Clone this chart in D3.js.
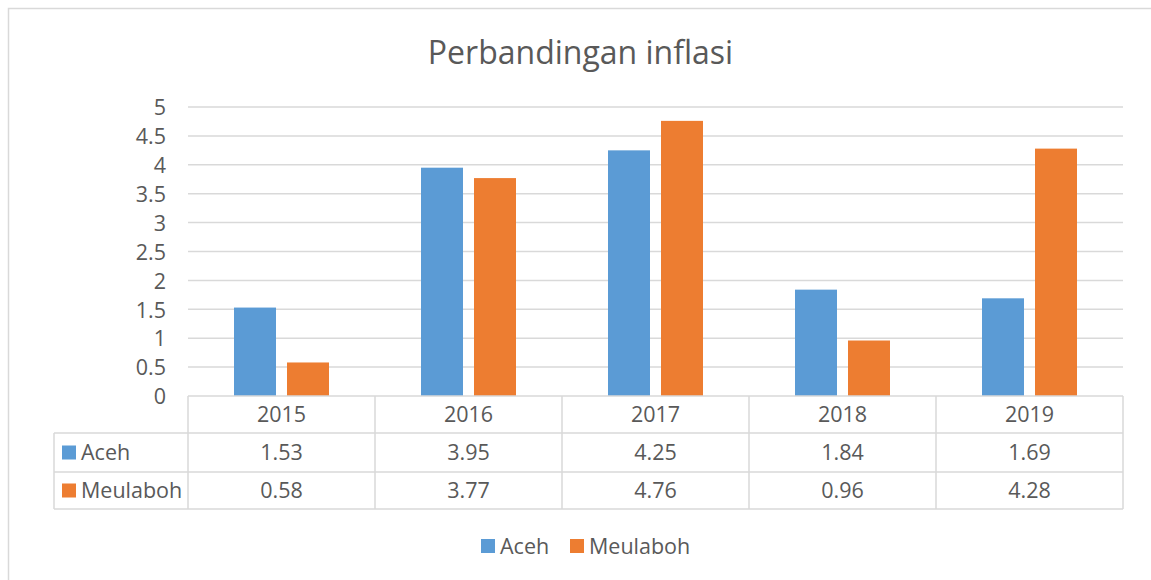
<!DOCTYPE html>
<html>
<head>
<meta charset="utf-8">
<script src="https://cdn.jsdelivr.net/npm/d3@7"></script>
<style>
  html, body { margin: 0; padding: 0; background: #fff; }
  svg { display: block; }
  text { font-family: "Open Sans", Lato, sans-serif; fill: #595959; }
</style>
</head>
<body>
<svg id="chart" width="1151" height="580"></svg>
<script>
const categories = ["2015", "2016", "2017", "2018", "2019"];
const seriesNames = ["Aceh", "Meulaboh"];
const acehValues = [1.53, 3.95, 4.25, 1.84, 1.69];
const meulabohValues = [0.58, 3.77, 4.76, 0.96, 4.28];
const tickValues = [0, 0.5, 1, 1.5, 2, 2.5, 3, 3.5, 4, 4.5, 5];
const colors = ["#5B9BD5", "#ED7D31"];
const titleText = "Perbandingan inflasi";

const seriesValues = [acehValues, meulabohValues];

const svg = d3.select("#chart");
const plot = { left: 188, right: 1123, top: 107, bottom: 396 };
const rowH = [37, 39, 37];
const gridColor = "#d9d9d9";
const fs = "21.5px";

// outer chart border
svg.append("rect")
  .attr("x", 8.5).attr("y", 8.5)
  .attr("width", 1300).attr("height", 700)
  .attr("fill", "none").attr("stroke", gridColor).attr("stroke-width", 1.5);

// title
svg.append("text")
  .attr("x", (428 + 733) / 2).attr("y", 64)
  .attr("text-anchor", "middle")
  .style("font-size", "32px")
  .text(titleText);

const x0 = d3.scaleBand().domain(categories).range([plot.left, plot.right]).padding(0);
const groupW = 95;
const x1 = d3.scaleBand().domain(seriesNames).range([0, groupW]).paddingInner(0.2075).paddingOuter(0);
const y = d3.scaleLinear().domain([0, 5]).range([plot.bottom, plot.top]);

// gridlines
svg.append("g").selectAll("line").data(tickValues.filter(d => d > 0)).join("line")
  .attr("x1", plot.left).attr("x2", plot.right)
  .attr("y1", d => y(d)).attr("y2", d => y(d))
  .attr("stroke", gridColor).attr("stroke-width", 1.5);

// y axis labels
const yAxis = d3.axisLeft(y).tickValues(tickValues).tickSize(0).tickPadding(0)
  .tickFormat(d => d3.format("")(d));
const gy = svg.append("g").attr("transform", `translate(${plot.left - 22},0)`).call(yAxis);
gy.select(".domain").remove();
gy.selectAll("text").style("font-size", fs).attr("fill", "#595959")
  .style("font-family", "'Open Sans', Lato, sans-serif").attr("dy", "0.36em");

// bars
const groups = svg.append("g").selectAll("g").data(categories).join("g")
  .attr("transform", d => `translate(${x0(d) + (x0.bandwidth() - groupW) / 2},0)`);
groups.selectAll("rect").data((d, i) => seriesNames.map((s, j) => ({ s, j, v: seriesValues[j][i] }))).join("rect")
  .attr("x", d => x1(d.s)).attr("width", x1.bandwidth())
  .attr("y", d => y(d.v)).attr("height", d => y(0) - y(d.v))
  .attr("fill", d => colors[d.j]);

// data table
const tbl = svg.append("g");
const rowTop = [plot.bottom, plot.bottom + rowH[0], plot.bottom + rowH[0] + rowH[1]];
const tableBottom = rowTop[2] + rowH[2];
const labelLeft = 54;
const lineAttrs = sel => sel.attr("stroke", gridColor).attr("stroke-width", 1.5);

tbl.append("line").attr("x1", plot.left).attr("x2", plot.right).attr("y1", rowTop[0]).attr("y2", rowTop[0]).call(lineAttrs);
[rowTop[1], rowTop[2], tableBottom].forEach(yy => {
  tbl.append("line").attr("x1", labelLeft).attr("x2", plot.right).attr("y1", yy).attr("y2", yy).call(lineAttrs);
});
categories.forEach(c => {
  tbl.append("line").attr("x1", x0(c)).attr("x2", x0(c)).attr("y1", rowTop[0]).attr("y2", tableBottom).call(lineAttrs);
});
tbl.append("line").attr("x1", plot.right).attr("x2", plot.right).attr("y1", rowTop[0]).attr("y2", tableBottom).call(lineAttrs);
tbl.append("line").attr("x1", labelLeft).attr("x2", labelLeft).attr("y1", rowTop[1]).attr("y2", tableBottom).call(lineAttrs);

tbl.selectAll("text.hdr").data(categories).join("text").attr("class", "hdr")
  .attr("x", d => x0(d) + x0.bandwidth() / 2).attr("y", rowTop[0] + rowH[0] / 2)
  .attr("dy", "0.36em").attr("text-anchor", "middle").style("font-size", fs).text(d => d);

seriesNames.forEach((s, j) => {
  const ry = rowTop[j + 1] + rowH[j + 1] / 2;
  tbl.append("rect").attr("x", 62).attr("y", ry - 7).attr("width", 14).attr("height", 14).attr("fill", colors[j]);
  tbl.append("text").attr("x", 81).attr("y", ry).attr("dy", "0.36em").style("font-size", fs).text(s);
  tbl.selectAll("text.v" + j).data(seriesValues[j]).join("text").attr("class", "v" + j)
    .attr("x", (d, i) => x0(categories[i]) + x0.bandwidth() / 2).attr("y", ry)
    .attr("dy", "0.36em").attr("text-anchor", "middle").style("font-size", fs)
    .text(d => d3.format(".2f")(d));
});

// legend
const legend = svg.append("g");
const legendX = [481, 570];
seriesNames.forEach((s, j) => {
  legend.append("rect").attr("x", legendX[j]).attr("y", 539).attr("width", 14).attr("height", 14).attr("fill", colors[j]);
  legend.append("text").attr("x", legendX[j] + 19).attr("y", 546).attr("dy", "0.36em").style("font-size", fs).text(s);
});
</script>
</body>
</html>
